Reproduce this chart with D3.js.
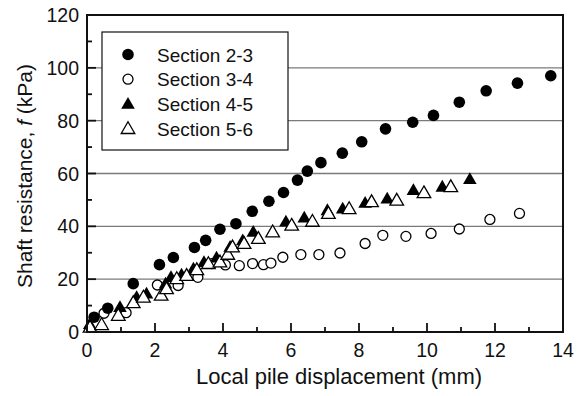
<!DOCTYPE html>
<html>
<head>
<meta charset="utf-8">
<script src="https://cdn.jsdelivr.net/npm/d3@7"></script>
<style>
  body { margin: 0; background: #fff; }
  text { font-family: "Liberation Sans", Arial, sans-serif; fill: #111; }
</style>
</head>
<body>
<script>
// data (x = displacement mm, y = shaft resistance kPa)
var s23x = [0.21, 0.61, 1.36, 2.13, 2.54, 3.16, 3.49, 3.91, 4.38, 4.86, 5.35, 5.78, 6.19, 6.48, 6.88, 7.51, 8.08, 8.78, 9.58, 10.19, 10.95, 11.74, 12.66, 13.64];
var s23y = [5.6, 9.0, 18.3, 25.5, 28.2, 32.0, 34.7, 38.9, 41.0, 45.7, 49.5, 52.8, 57.5, 60.9, 64.1, 67.7, 72.0, 76.9, 79.4, 82.0, 87.0, 91.3, 94.2, 97.0];

var s34x = [0.5, 1.15, 2.07, 2.68, 3.26, 3.67, 4.07, 4.48, 4.87, 5.19, 5.41, 5.76, 6.29, 6.82, 7.44, 8.18, 8.70, 9.38, 10.12, 10.95, 11.85, 12.72];
var s34y = [7.1, 7.3, 17.8, 17.6, 20.7, 25.9, 25.4, 25.1, 25.9, 25.5, 26.1, 28.3, 29.3, 29.3, 29.9, 33.5, 36.6, 36.2, 37.3, 39.0, 42.6, 44.9];

var s45x = [0.08, 0.97, 1.46, 1.75, 2.31, 2.47, 2.78, 3.13, 3.44, 3.81, 4.21, 4.58, 4.89, 5.85, 6.39, 7.07, 7.52, 8.18, 8.83, 9.6, 10.45, 11.26];
var s45y = [3.0, 9.4, 13.2, 14.5, 18.3, 20.8, 21.7, 24.0, 26.5, 28.2, 32.2, 34.7, 37.9, 41.8, 43.3, 46.1, 46.7, 48.9, 50.5, 53.7, 55.0, 57.9];

var s56x = [0.09, 0.43, 0.92, 1.36, 1.66, 2.18, 2.34, 2.64, 2.93, 3.23, 3.57, 3.91, 4.14, 4.28, 4.62, 5.04, 5.46, 6.02, 6.63, 7.10, 7.71, 8.37, 9.11, 9.91, 10.7];
var s56y = [1.8, 2.8, 6.3, 11.1, 13.2, 13.9, 16.4, 20.2, 21.4, 23.6, 25.9, 26.5, 29.4, 32.2, 33.5, 35.4, 37.9, 40.4, 41.9, 44.9, 46.7, 49.3, 49.9, 52.7, 55.0];

var seriesNames = ["Section 2-3", "Section 3-4", "Section 4-5", "Section 5-6"];
var seriesKinds = ["circleFilled", "circleOpen", "triFilled", "triOpen"];

var xTicks = [0, 2, 4, 6, 8, 10, 12, 14];
var yTicks = [0, 20, 40, 60, 80, 100, 120];
var yGrid = [20, 40, 60, 80, 100];

var margin = {top: 15, right: 22, bottom: 64, left: 87},
    width = 585 - margin.left - margin.right,
    height = 396 - margin.top - margin.bottom;

var x = d3.scaleLinear().domain([0, 14]).range([0, width]);
var y = d3.scaleLinear().domain([0, 120]).range([height, 0]);

var svg = d3.select("body").append("svg")
    .attr("width", 585)
    .attr("height", 396);

var g = svg.append("g")
    .attr("transform", "translate(" + margin.left + "," + margin.top + ")");

// horizontal grid lines
g.selectAll(".grid")
  .data(yGrid)
  .enter().append("line")
    .attr("x1", 0).attr("x2", width)
    .attr("y1", function(d) { return y(d); })
    .attr("y2", function(d) { return y(d); })
    .attr("stroke", "#7a7a7a")
    .attr("stroke-width", 1.3);

// inward ticks, major and minor
var xMinor = d3.range(0, 15, 1);
var yMinor = d3.range(0, 121, 10);

g.selectAll(".xt")
  .data(xMinor)
  .enter().append("line")
    .attr("x1", function(d) { return x(d); })
    .attr("x2", function(d) { return x(d); })
    .attr("y1", height)
    .attr("y2", function(d) { return height - (d % 2 === 0 ? 9 : 5); })
    .attr("stroke", "#111").attr("stroke-width", 1.8);

g.selectAll(".yt")
  .data(yMinor)
  .enter().append("line")
    .attr("y1", function(d) { return y(d); })
    .attr("y2", function(d) { return y(d); })
    .attr("x1", 0)
    .attr("x2", function(d) { return d % 20 === 0 ? 9 : 5; })
    .attr("stroke", "#111").attr("stroke-width", 1.8);

// tick labels
g.selectAll(".xl")
  .data(xTicks)
  .enter().append("text")
    .attr("x", function(d) { return x(d); })
    .attr("y", height + 25)
    .attr("text-anchor", "middle")
    .style("font-size", "19.5px")
    .text(function(d) { return d; });

g.selectAll(".yl")
  .data(yTicks)
  .enter().append("text")
    .attr("x", -8)
    .attr("y", function(d) { return y(d) + 7; })
    .attr("text-anchor", "end")
    .style("font-size", "19.5px")
    .text(function(d) { return d; });

// axis titles
svg.append("text")
    .attr("x", margin.left + width / 2 + 14)
    .attr("y", 384)
    .attr("text-anchor", "middle")
    .style("font-size", "22px")
    .text("Local pile displacement (mm)");

var yt = svg.append("text")
    .attr("transform", "translate(32,176) rotate(-90)")
    .attr("text-anchor", "middle")
    .style("font-size", "21px");
yt.append("tspan").text("Shaft resistance, ");
yt.append("tspan").style("font-style", "italic").text("f");
yt.append("tspan").text(" (kPa)");

// markers
var triangle = d3.symbol().type(d3.symbolTriangle).size(80);

function drawMarker(sel, kind) {
  if (kind === "circleFilled") {
    sel.append("circle").attr("r", 5.8).attr("fill", "#000");
  } else if (kind === "circleOpen") {
    sel.append("circle").attr("r", 5).attr("fill", "#fff")
      .attr("stroke", "#000").attr("stroke-width", 1.3);
  } else if (kind === "triFilled") {
    sel.append("path").attr("d", triangle).attr("fill", "#000")
      .attr("transform", "translate(0,1)");
  } else {
    sel.append("path").attr("d", triangle).attr("fill", "#fff")
      .attr("stroke", "#000").attr("stroke-width", 1.3)
      .attr("transform", "translate(0,1)");
  }
}

function toPoints(xs, ys) {
  return xs.map(function(v, i) { return {x: v, y: ys[i]}; });
}

var allSeries = [toPoints(s23x, s23y), toPoints(s34x, s34y), toPoints(s45x, s45y), toPoints(s56x, s56y)];

// draw order so open markers sit on top like the original
[1, 2, 3, 0].forEach(function(k) {
  g.selectAll(".m" + k)
    .data(allSeries[k])
    .enter().append("g")
      .attr("transform", function(d) { return "translate(" + x(d.x) + "," + y(d.y) + ")"; })
      .each(function() { drawMarker(d3.select(this), seriesKinds[k]); });
});

// frame
g.append("rect")
    .attr("width", width).attr("height", height)
    .attr("fill", "none").attr("stroke", "#111").attr("stroke-width", 2);

// legend
var leg = svg.append("g").attr("transform", "translate(102,32)");
leg.append("rect")
    .attr("width", 186).attr("height", 118)
    .attr("fill", "#fff").attr("stroke", "#111").attr("stroke-width", 1.2);

seriesNames.forEach(function(name, i) {
  var row = leg.append("g").attr("transform", "translate(0," + (22.5 + i * 24.7) + ")");
  drawMarker(row.append("g").attr("transform", "translate(26,0)"), seriesKinds[i]);
  row.append("text")
    .attr("x", 55).attr("y", 7)
    .style("font-size", "19px")
    .text(name);
});
</script>
</body>
</html>
